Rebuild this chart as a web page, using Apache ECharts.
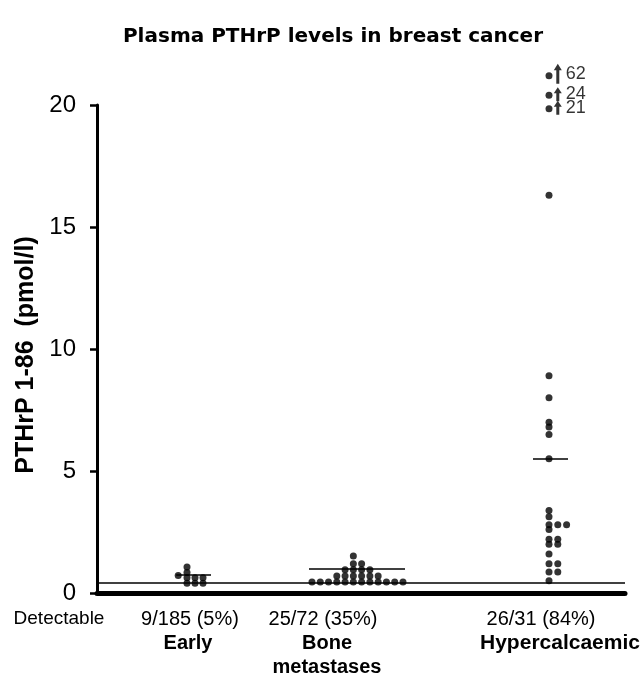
<!DOCTYPE html>
<html><head><meta charset="utf-8">
<script src="https://cdn.jsdelivr.net/npm/echarts/dist/echarts.min.js"></script>
<style>html,body{margin:0;padding:0;background:#fff}#c{width:643px;height:680px}</style>
</head><body><div id="c"></div>
<script>
// ---------------- data ----------------
const titleText = 'Plasma PTHrP levels in breast cancer';
const yAxisName = 'PTHrP 1-86  (pmol/l)';
const groups = ['Early', 'Bone\nmetastases', 'Hypercalcaemic'];
const detectableLabel = 'Detectable';
const detectable = ['9/185 (5%)', '25/72 (35%)', '26/31 (84%)'];
const yTicks = [0, 5, 10, 15, 20];
const detectionLimit = 0.4;
const groupMeans = [0.74, 1.0, 5.5];
// [column offset, value]
const earlyDots = [[-1.6,0.72],[-0.5,0.4],[-0.5,0.62],[-0.5,0.84],[-0.5,1.07],[0.5,0.4],[0.5,0.62],[1.5,0.4],[1.5,0.62]];
const boneDots = [
  [-5.5,0.45],[-4.5,0.45],[-3.5,0.45],
  [-2.5,0.45],[-2.5,0.7],
  [-1.5,0.45],[-1.5,0.7],[-1.5,0.95],
  [-0.5,0.45],[-0.5,0.7],[-0.5,0.95],[-0.5,1.2],[-0.5,1.52],
  [0.5,0.45],[0.5,0.7],[0.5,0.95],[0.5,1.2],
  [1.5,0.45],[1.5,0.7],[1.5,0.95],
  [2.5,0.45],[2.5,0.7],
  [3.5,0.45],[4.5,0.45],[5.5,0.45]
];
const hyperDots = [
  [0,0.5],[0,0.86],[0,1.2],[0,1.6],[0,2.0],[0,2.2],[0,2.6],[0,2.8],[0,3.12],[0,3.38],
  [0,5.5],[0,6.5],[0,6.8],[0,7.0],[0,8.0],[0,8.9],[0,16.3],
  [1,0.86],[1,1.2],[1,2.0],[1,2.2],[1,2.8],
  [2,2.8]
];
const offScaleValues = [19.85, 20.4, 21.2];   // plotted positions
const offScaleActual = ['21', '24', '62'];     // true values

// ---------------- layout ----------------
const FONT = '"Liberation Sans", Arial, Helvetica, sans-serif';
const TITLE_FONT = '"DejaVu Sans", "Liberation Sans", Arial, sans-serif';
const groupCenter = [11.75, 32.56, 56.5];
const groupSpacing = [1, 1.034, 1.1];
const meanSpan = [[-1.85, 2.5], [-6.06, 5.94], [-2, 2.375]];
const arrowOffset = 1;
function place(g, arr) { return arr.map(([o, v]) => [groupCenter[g] + o * groupSpacing[g], v]); }

const dots = [].concat(place(0, earlyDots), place(1, boneDots), place(2, hyperDots),
  place(2, offScaleValues.map(v => [0, v])));

const meanLines = groupMeans.map((m, g) => [
  { coord: [groupCenter[g] + meanSpan[g][0], m] },
  { coord: [groupCenter[g] + meanSpan[g][1], m] }
]);

const shortArrow = 'path://M4,0 L8,6 L5.5,6 L5.5,14 L2.5,14 L2.5,6 L0,6 Z';
const tallArrow = 'path://M4,0 L8,6.5 L5.5,6.5 L5.5,20 L2.5,20 L2.5,6.5 L0,6.5 Z';
const arrowData = offScaleValues.map((v, i) => {
  const tall = Number(offScaleActual[i]) > 50;
  return {
    value: [groupCenter[2] + arrowOffset * groupSpacing[2], v],
    symbol: tall ? tallArrow : shortArrow,
    symbolSize: tall ? [8, 20] : [8, 14],
    symbolOffset: tall ? [0, -2] : [0, -1],
    label: { formatter: offScaleActual[i] }
  };
});

const chart = echarts.init(document.getElementById('c'), null, { renderer: 'canvas' });
const textEl = (x, y, text, size, bold, family) => ({
  type: 'text', x, y,
  style: { text, fontFamily: family || FONT, fontSize: size, fontWeight: bold ? 'bold' : 'normal',
    fill: '#000', textAlign: 'center', textVerticalAlign: 'middle', lineHeight: 24 }
});

chart.setOption({
  backgroundColor: '#fff',
  animation: false,
  grid: { left: 97, right: 18, top: 105, bottom: 87, containLabel: false },
  xAxis: {
    type: 'value', min: 0, max: 66,
    axisLine: { show: true, onZero: false, lineStyle: { color: '#000', width: 5 } },
    axisTick: { show: false }, axisLabel: { show: false }, splitLine: { show: false }
  },
  yAxis: {
    type: 'value', min: yTicks[0], max: yTicks[yTicks.length - 1], interval: yTicks[1] - yTicks[0],
    offset: 9,
    name: yAxisName, nameLocation: 'middle', nameGap: 43,
    nameTextStyle: { fontFamily: FONT, fontSize: 25, fontWeight: 'bold', color: '#000', padding: [0, 12, 0, 0] },
    axisLine: { show: true, lineStyle: { color: '#000', width: 3 } },
    axisTick: { show: true, length: 7, lineStyle: { color: '#000', width: 2.5 } },
    axisLabel: { fontFamily: FONT, fontSize: 24, color: '#000', margin: 12 },
    splitLine: { show: false }
  },
  series: [
    {
      type: 'scatter', data: dots, symbol: 'circle', symbolSize: 7, clip: false,
      itemStyle: { color: '#000' }, silent: true,
      markLine: {
        silent: true, symbol: 'none', label: { show: false },
        lineStyle: { color: '#000', width: 1.5, type: 'solid' },
        data: [{ yAxis: detectionLimit }].concat(meanLines)
      }
    },
    {
      type: 'scatter', data: arrowData, clip: false, silent: true,
      itemStyle: { color: '#000' },
      label: { show: true, position: 'right', distance: 4, fontFamily: FONT, fontSize: 18, color: '#000' }
    }
  ],
  graphic: [
    textEl(333, 37, titleText, 20, true, TITLE_FONT),
    textEl(59, 619, detectableLabel, 19, false),
    textEl(190, 619, detectable[0], 20, false),
    textEl(323, 619, detectable[1], 20, false),
    textEl(541, 619, detectable[2], 20, false),
    textEl(188, 643, groups[0], 20, true),
    textEl(327, 655, groups[1], 20, true),
    textEl(560, 643, groups[2], 21, true)
  ]
});
</script>
</body></html>
